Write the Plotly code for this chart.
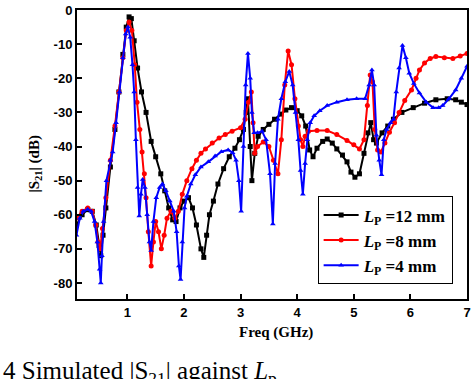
import plotly.graph_objects as go

# ---- data ----
freq_12 = [0.10, 0.20, 0.30, 0.38, 0.45, 0.50, 0.53, 0.57, 0.62, 0.70, 0.78, 0.85, 0.92, 0.98, 1.03, 1.07,
           1.12, 1.18, 1.25, 1.33, 1.42, 1.50, 1.59, 1.66, 1.73, 1.80, 1.86, 1.93, 2.00, 2.08, 2.15, 2.22,
           2.30, 2.35, 2.40, 2.45, 2.52, 2.60, 2.70, 2.80, 2.90, 2.98, 3.05, 3.10, 3.13, 3.17, 3.20, 3.25,
           3.31, 3.40, 3.50, 3.60, 3.71, 3.80, 3.90, 4.00, 4.08, 4.15, 4.22, 4.28, 4.35, 4.45, 4.53, 4.62,
           4.70, 4.80, 4.88, 4.95, 5.02, 5.10, 5.18, 5.25, 5.30, 5.35, 5.40, 5.50, 5.60, 5.70, 5.85, 6.05,
           6.25, 6.45, 6.65, 6.80, 6.90, 7.00]
s21_12 = [-63, -60, -58.5, -59, -63, -69, -72, -66, -58, -46, -35, -24, -13, -5, -2, -2.5,
          -9, -17, -24, -30, -38.5, -43, -48, -53, -58, -61.5, -62, -58, -56, -55, -58, -63,
          -70, -72.5, -66, -60, -56, -51, -46.5, -43, -40.5, -38, -35, -30, -26, -40, -50, -42,
          -37, -35, -33.5, -32, -30.5, -29.3, -28.6, -29.5, -31, -34, -41, -43, -40.5, -38.5, -37.8, -39,
          -40.7, -42.5, -44.5, -47.5, -49, -48, -42, -36, -33, -38, -39, -36, -34, -32, -30, -28.6,
          -27.3, -26.3, -26, -26.3, -27, -27.7]

freq_8 = [0.10, 0.20, 0.30, 0.38, 0.44, 0.48, 0.52, 0.56, 0.62, 0.70, 0.78, 0.85, 0.92, 0.98, 1.03, 1.08,
          1.13, 1.17, 1.22, 1.26, 1.30, 1.33, 1.37, 1.42, 1.46, 1.50, 1.55, 1.60, 1.65, 1.70, 1.77, 1.84,
          1.90, 1.97, 2.05, 2.14, 2.22, 2.30, 2.38, 2.50, 2.62, 2.73, 2.85, 3.00, 3.08, 3.14, 3.19, 3.22,
          3.25, 3.30, 3.40, 3.50, 3.58, 3.66, 3.72, 3.78, 3.84, 3.90, 3.96, 4.02, 4.06, 4.10, 4.14, 4.20,
          4.35, 4.53, 4.70, 4.88, 5.00, 5.10, 5.18, 5.24, 5.29, 5.33, 5.37, 5.42, 5.48, 5.55, 5.63, 5.72,
          5.80, 5.90, 6.02, 6.10, 6.16, 6.25, 6.35, 6.45, 6.60, 6.75, 6.88, 7.00]
s21_8 = [-61, -59, -58, -59, -63, -68, -70, -64, -55, -44, -34, -24, -14, -6, -3.5, -6,
         -16, -27, -35, -41.6, -48, -55, -65, -75, -68, -62, -65, -70, -66, -61, -59, -61,
         -59, -54, -50, -46.5, -44, -42, -40.7, -39, -37.5, -36.5, -35.5, -34.5, -32, -27, -24, -33,
         -42, -40, -38.7, -40, -44, -48, -38, -22, -12, -16, -26, -34, -38, -40, -37, -35.5,
         -35.3, -35.3, -36.5, -38.2, -39.5, -40.7, -38, -28, -19, -21, -35, -41, -41.6, -39, -35.8, -33,
         -30, -26.5, -23.4, -20, -17.6, -15.5, -14.2, -13.6, -14, -14.2, -13.5, -12.7]

freq_4 = [0.10, 0.16, 0.22, 0.30, 0.36, 0.42, 0.47, 0.51, 0.53, 0.55, 0.58, 0.63, 0.70, 0.74, 0.80, 0.86,
          0.92, 0.97, 1.01, 1.05, 1.09, 1.12, 1.15, 1.18, 1.21, 1.24, 1.27, 1.31, 1.35, 1.39, 1.42, 1.46,
          1.51, 1.57, 1.62, 1.68, 1.75, 1.82, 1.87, 1.91, 1.94, 1.97, 2.01, 2.05, 2.12, 2.20, 2.30, 2.43,
          2.55, 2.66, 2.78, 2.86, 2.92, 2.97, 3.01, 3.05, 3.09, 3.13, 3.17, 3.20, 3.24, 3.30, 3.38, 3.45,
          3.52, 3.57, 3.61, 3.66, 3.72, 3.79, 3.86, 3.92, 3.97, 4.02, 4.06, 4.10, 4.14, 4.18, 4.23, 4.30,
          4.40, 4.53, 4.70, 4.88, 5.05, 5.20, 5.27, 5.32, 5.36, 5.40, 5.45, 5.49, 5.53, 5.58, 5.65, 5.70,
          5.75, 5.80, 5.86, 5.92, 5.98, 6.06, 6.16, 6.28, 6.40, 6.50, 6.57, 6.68, 6.80, 6.90, 7.00]
s21_4 = [-66, -61, -59, -58.4, -59, -62, -68, -76, -80, -72, -62, -50, -44, -41.6, -33, -24,
         -14, -7, -5, -8, -16, -24, -38, -52, -60.4, -54, -49.7, -52, -60, -68, -70.5, -62,
         -55, -52, -51, -53, -56, -59, -65, -75, -79, -68, -58, -54.6, -51, -48.3, -46, -44.5,
         -42.8, -41.5, -41, -41.8, -44, -50, -59, -40, -22, -12.7, -20, -30, -36, -36, -35.5, -38,
         -48, -62.7, -45, -32, -26, -21, -18, -22, -30, -38, -47, -54, -45, -38, -33, -31,
         -29.5, -28, -27, -26.3, -26, -26, -22, -17.6, -22, -36.7, -44, -48.3, -38, -35, -33, -32,
         -24, -17, -10.4, -14, -18.5, -21.5, -24.3, -27, -28.6, -28.6, -28, -26, -23.4, -20, -16.5]

series_names = ["<b><i>L</i><sub>P</sub> =12 mm</b>", "<b><i>L</i><sub>P</sub> =8 mm</b>",
                "<b><i>L</i><sub>P</sub> =4 mm</b>"]
x_tick_vals = [1, 2, 3, 4, 5, 6, 7]
x_tick_text = ["1", "2", "3", "4", "5", "6", "7"]
y_tick_vals = [0, -10, -20, -30, -40, -50, -60, -70, -80]
y_tick_text = ["0", "-10", "-20", "-30", "-40", "-50", "-60", "-70", "-80"]

fig = go.Figure()
styles = [("#000000", "square"), ("#ff0000", "circle"), ("#0000ff", "triangle-up")]
for (xs, ys), name, (col, sym) in zip([(freq_12, s21_12), (freq_8, s21_8), (freq_4, s21_4)], series_names, styles):
    fig.add_trace(go.Scatter(x=xs, y=ys, name=name, mode="lines+markers",
                             line=dict(color=col, width=2),
                             marker=dict(color=col, symbol=sym, size=5, line=dict(width=0))))

fig.update_layout(
    width=474, height=379,
    margin=dict(l=77, r=3, t=6, b=80),
    paper_bgcolor="white", plot_bgcolor="white",
    showlegend=True,
    legend=dict(x=0.617, y=0.355, xanchor="left", yanchor="top",
                bordercolor="black", borderwidth=1, bgcolor="white",
                font=dict(family="Liberation Serif", size=17, color="black"),
                tracegroupgap=0, itemwidth=35),
    font=dict(family="Liberation Sans", color="black"),
)
fig.update_xaxes(range=[0.11, 7.0], tickvals=x_tick_vals, ticktext=x_tick_text,
                 ticks="inside", ticklen=5, tickwidth=2, tickcolor="black",
                 showline=True, linewidth=2, linecolor="black", mirror=True,
                 showgrid=False, zeroline=False, ticklabeloverflow="allow",
                 tickfont=dict(family="Liberation Sans", size=13, weight="bold"))
fig.update_yaxes(range=[-84.7, 0.02], tickvals=y_tick_vals, ticktext=y_tick_text,
                 ticks="inside", ticklen=5, tickwidth=2, tickcolor="black",
                 showline=True, linewidth=2, linecolor="black", mirror=True,
                 showgrid=False, zeroline=False, ticklabeloverflow="allow",
                 tickfont=dict(family="Liberation Sans", size=13, weight="bold"))

fig.add_annotation(text="<b>|S<sub>21</sub>| (dB)</b>", xref="paper", yref="paper",
                   x=-42 / 394, y=0.47, textangle=-90, showarrow=False,
                   xanchor="center", yanchor="middle",
                   font=dict(family="Liberation Serif", size=15, color="black"))
fig.add_annotation(text="<b>Freq (GHz)</b>", xref="paper", yref="paper",
                   x=0.51, y=-34 / 293, showarrow=False, xanchor="center", yanchor="middle",
                   font=dict(family="Liberation Serif", size=15, color="black"))
fig.add_annotation(text="4 Simulated |S<sub>21</sub>| against <i>L</i><sub>p</sub>",
                   xref="paper", yref="paper", x=-77 / 394, y=-57 / 293,
                   xanchor="left", yanchor="top", showarrow=False,
                   font=dict(family="Liberation Serif", size=25, color="black"))

fig.write_html("out.html", config={"displayModeBar": False},
               post_script="document.body.style.margin='0';document.body.style.overflow='hidden';")
